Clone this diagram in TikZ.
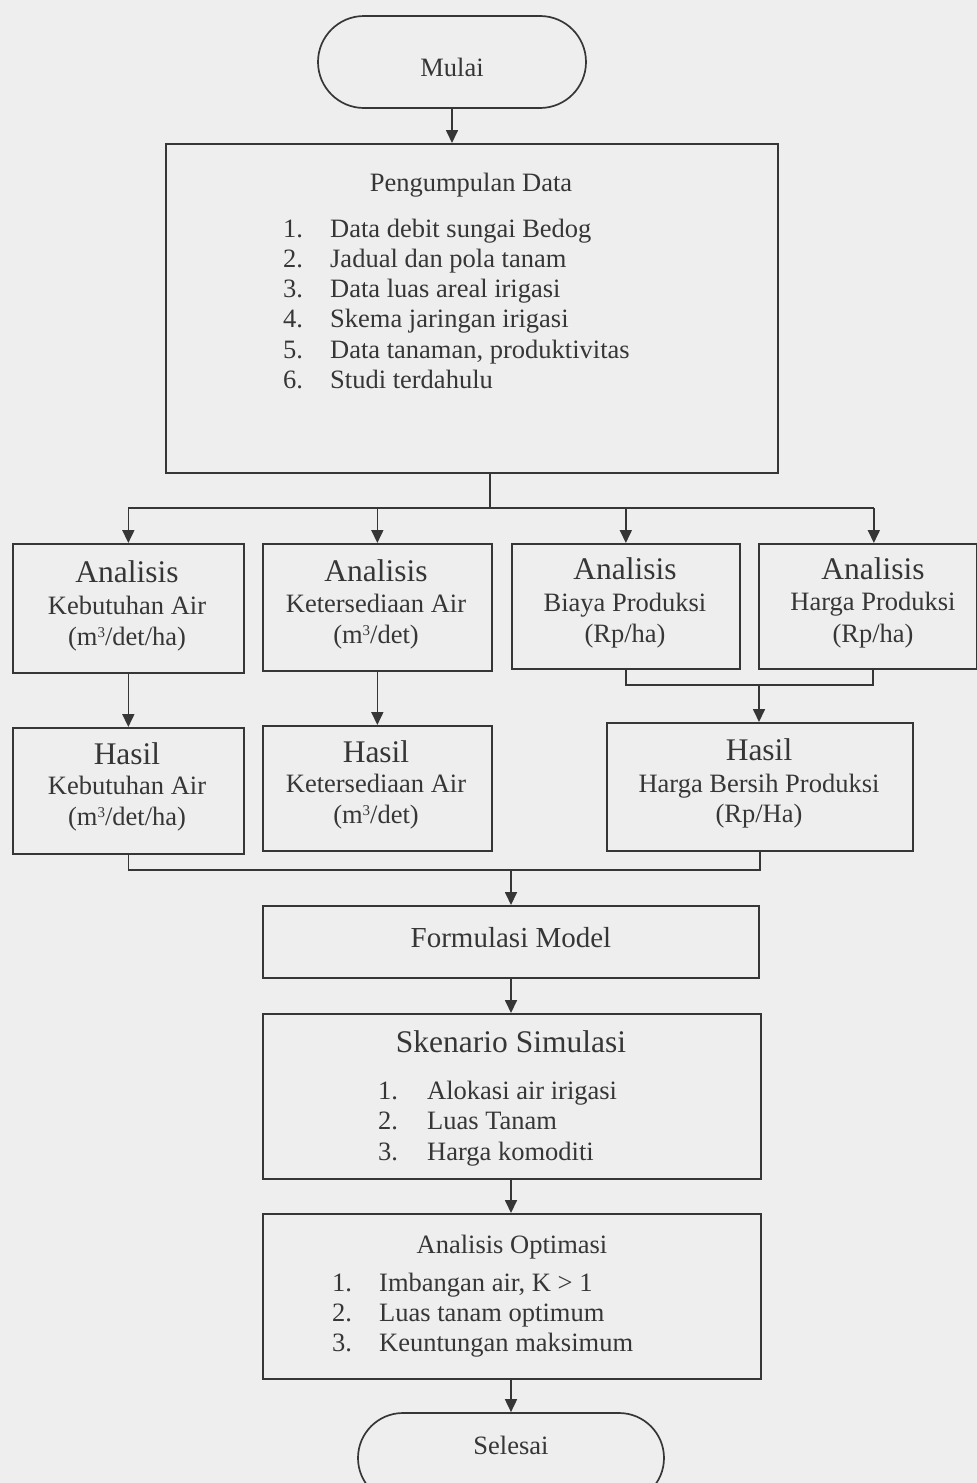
\documentclass[tikz,border=0pt]{standalone}
\usepackage{fontspec}
\setmainfont{Liberation Serif}
\usetikzlibrary{arrows.meta,shapes.misc}
\definecolor{ink}{HTML}{363636}
\definecolor{paper}{HTML}{EEEEEE}
\newcommand\cubed{\raisebox{8pt}{\fontsize{15}{15}\selectfont 3}}
\begin{document}
\begin{tikzpicture}[x=1pt,y=-1pt,
  box/.style={draw=ink,line width=1.7pt,inner sep=0pt,anchor=north west},
  term/.style={rounded rectangle,draw=ink,line width=1.7pt,inner sep=0pt},
  txt/.style={text=ink,inner sep=0pt,font=\fontsize{26.5}{30}\selectfont,text height=18.3pt,text depth=5.7pt},
  mid/.style={text=ink,inner sep=0pt,font=\fontsize{29}{33}\selectfont,text height=20pt,text depth=6.3pt},
  big/.style={text=ink,inner sep=0pt,font=\fontsize{31.5}{36}\selectfont,text height=21.7pt,text depth=6.8pt},
  ln/.style={draw=ink,line width=1.7pt},
  arr/.style={draw=ink,line width=1.7pt,-{Triangle[length=13pt,width=12pt]}}]
\fill[paper] (0,0) rectangle (977,1483);
\useasboundingbox (0,0) rectangle (977,1483);

% terminals
\node[term,minimum width=268pt,minimum height=92pt] (mulai) at (452,62) {};
\node[txt] (mulaiT) at (452,70) {Mulai};
\node[term,minimum width=306pt,minimum height=90pt] (selesai) at (511,1458) {};
\node[txt] (selesaiT) at (511,1448) {Selesai};

% data collection
\node[box,minimum width=612pt,minimum height=329pt] (pd) at (165,143) {};
\node[txt] (pdT) at (471,185) {Pengumpulan Data};
\foreach \t [count=\i] in {Data debit sungai Bedog, Jadual dan pola tanam, Data luas areal irigasi, Skema jaringan irigasi, {Data tanaman, produktivitas}, Studi terdahulu}
  \node[txt,anchor=west] (pd\i) at (283,{231+30.2*(\i-1)}) {\makebox[47pt][l]{\i.}\t};

% analysis boxes
\node[box,minimum width=231pt,minimum height=129pt] (a1) at (12,543) {};
\node[box,minimum width=229pt,minimum height=127pt] (a2) at (262,543) {};
\node[box,minimum width=228pt,minimum height=125pt] (a3) at (511,543) {};
\node[box,minimum width=218pt,minimum height=125pt] (a4) at (758,543) {};

\node[big] (a1a) at (127,575) {Analisis};
\node[txt] (a1b) at (127,608) {Kebutuhan Air};
\node[txt] (a1c) at (127,639) {(m\cubed/det/ha)};
\node[big] (a2a) at (376,574) {Analisis};
\node[txt] (a2b) at (376,606) {Ketersediaan Air};
\node[txt] (a2c) at (376,637) {(m\cubed/det)};
\node[big] (a3a) at (625,572) {Analisis};
\node[txt] (a3b) at (625,605) {Biaya Produksi};
\node[txt] (a3c) at (625,636) {(Rp/ha)};
\node[big] (a4a) at (873,572) {Analisis};
\node[txt] (a4b) at (873,604) {Harga Produksi};
\node[txt] (a4c) at (873,636) {(Rp/ha)};

% result boxes
\node[box,minimum width=231pt,minimum height=126pt] (h1) at (12,727) {};
\node[box,minimum width=229pt,minimum height=125pt] (h2) at (262,725) {};
\node[box,minimum width=306pt,minimum height=128pt] (h3) at (606,722) {};

\node[big] (h1a) at (127,757) {Hasil};
\node[txt] (h1b) at (127,788) {Kebutuhan Air};
\node[txt] (h1c) at (127,819) {(m\cubed/det/ha)};
\node[big] (h2a) at (376,755) {Hasil};
\node[txt] (h2b) at (376,786) {Ketersediaan Air};
\node[txt] (h2c) at (376,817) {(m\cubed/det)};
\node[big] (h3a) at (759,753) {Hasil};
\node[txt] (h3b) at (759,786) {Harga Bersih Produksi};
\node[txt] (h3c) at (759,816) {(Rp/Ha)};

% model formulation
\node[box,minimum width=496pt,minimum height=72pt] (fm) at (262,905) {};
\node[mid] (fmT) at (511,941) {Formulasi Model};

% simulation scenario
\node[box,minimum width=498pt,minimum height=165pt] (sk) at (262,1013) {};
\node[big] (skT) at (511,1045) {Skenario Simulasi};
\foreach \t [count=\i] in {Alokasi air irigasi, Luas Tanam, Harga komoditi}
  \node[txt,anchor=west] (sk\i) at (378,{1093+30.5*(\i-1)}) {\makebox[49pt][l]{\i.}\t};

% optimisation
\node[box,minimum width=498pt,minimum height=165pt] (ao) at (262,1213) {};
\node[txt] (aoT) at (512,1247) {Analisis Optimasi};
\foreach \t [count=\i] in {{Imbangan air, K > 1}, Luas tanam optimum, Keuntungan maksimum}
  \node[txt,anchor=west] (ao\i) at (332,{1285+30*(\i-1)}) {\makebox[47pt][l]{\i.}\t};

% connectors
\coordinate (bus1) at (490,508);
\coordinate (a4in) at ([xshift=6pt]a4.north);
\coordinate (bus2) at (759,685);
\coordinate (a4out) at ([xshift=5pt]a4.south);
\coordinate (bus3) at (511,870);

\draw[arr] (mulai.south) -- (mulai.south |- pd.north);
\draw[ln] (pd.south -| bus1) -- (bus1);
\draw[ln] (a1.north |- bus1) -- (a4in |- bus1);
\draw[arr] (a1.north |- bus1) -- (a1.north);
\draw[arr] (a2.north |- bus1) -- (a2.north);
\draw[arr] (a3.north |- bus1) -- (a3.north);
\draw[arr] (a4in |- bus1) -- (a4in);

\draw[arr] (a1.south) -- (a1.south |- h1.north);
\draw[arr] (a2.south) -- (a2.south |- h2.north);
\draw[ln] (a3.south) -- (a3.south |- bus2) -- (a4out |- bus2) -- (a4out);
\draw[arr] (bus2) -- (bus2 |- h3.north);

\draw[ln] (h1.south) -- (h1.south |- bus3) -- (h3.south |- bus3) -- (h3.south);
\draw[arr] (bus3) -- (bus3 |- fm.north);
\draw[arr] (bus3 |- fm.south) -- (bus3 |- sk.north);
\draw[arr] (bus3 |- sk.south) -- (bus3 |- ao.north);
\draw[arr] (bus3 |- ao.south) -- (bus3 |- selesai.north);
\end{tikzpicture}
\end{document}
